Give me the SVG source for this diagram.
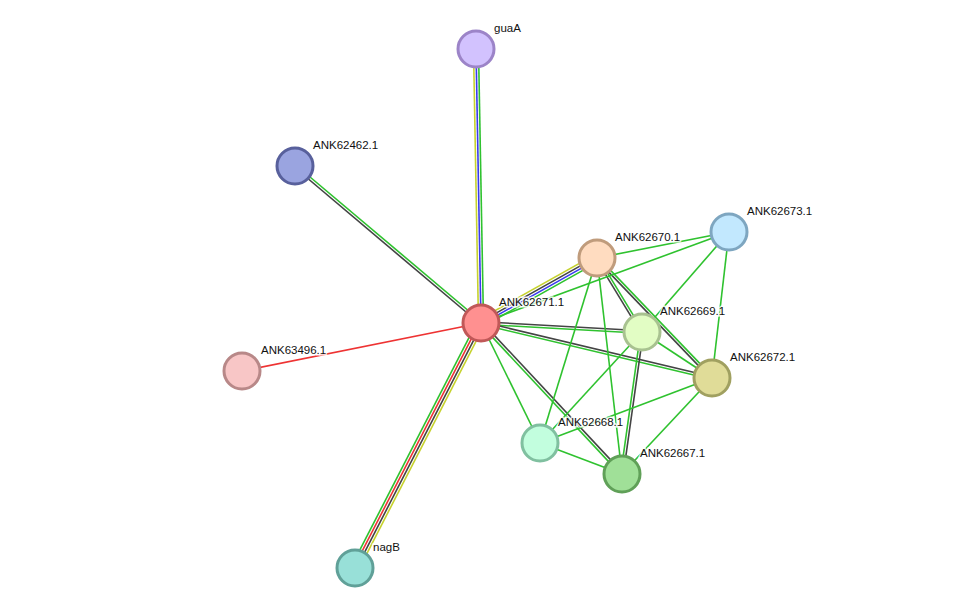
<svg xmlns="http://www.w3.org/2000/svg" width="976" height="614" viewBox="0 0 976 614">
<style>
line{stroke-width:1.6;fill:none}
.g{stroke:#2fc22f}.k{stroke:#444}.y{stroke:#c6d22e}.b{stroke:#3a3aee}.r{stroke:#ee3333}
circle{stroke-width:3}
text{font-family:"Liberation Sans",Arial,sans-serif;font-size:11.5px;fill:#111;stroke:#fff;stroke-width:3;stroke-opacity:0.8;paint-order:stroke}
</style>
<rect width="976" height="614" fill="#fff"/>
<g id="edges">
<line class="y" x1="473.5" y1="49" x2="478.5" y2="323"/>
<line class="b" x1="476" y1="49" x2="481" y2="323"/>
<line class="g" x1="478.5" y1="49" x2="483.5" y2="323"/>
<line class="g" x1="295.8" y1="165" x2="481.8" y2="322"/>
<line class="k" x1="294.2" y1="167" x2="480.2" y2="324"/>
<line class="r" x1="242" y1="371" x2="481" y2="323"/>
<line class="g" x1="351.5" y1="566.2" x2="477.5" y2="321.2"/>
<line class="r" x1="353.8" y1="567.4" x2="479.8" y2="322.4"/>
<line class="k" x1="356.2" y1="568.6" x2="482.2" y2="323.6"/>
<line class="y" x1="358.5" y1="569.8" x2="484.5" y2="324.8"/>
<line class="y" x1="479.1" y1="319.6" x2="595.1" y2="254.6"/>
<line class="k" x1="480.4" y1="321.9" x2="596.4" y2="256.9"/>
<line class="b" x1="481.6" y1="324.1" x2="597.6" y2="259.1"/>
<line class="g" x1="482.9" y1="326.4" x2="598.9" y2="261.4"/>
<line class="k" x1="481.1" y1="321.7" x2="642.1" y2="330.7"/>
<line class="g" x1="480.9" y1="324.3" x2="641.9" y2="333.3"/>
<line class="k" x1="481.3" y1="321.7" x2="712.3" y2="376.7"/>
<line class="g" x1="480.7" y1="324.3" x2="711.7" y2="379.3"/>
<line class="k" x1="482" y1="322.1" x2="623" y2="473.1"/>
<line class="g" x1="480" y1="323.9" x2="621" y2="474.9"/>
<line class="k" x1="595.9" y1="258.7" x2="640.9" y2="332.7"/>
<line class="g" x1="598.1" y1="257.3" x2="643.1" y2="331.3"/>
<line class="k" x1="596.1" y1="258.9" x2="711.1" y2="378.9"/>
<line class="g" x1="597.9" y1="257.1" x2="712.9" y2="377.1"/>
<line class="k" x1="643.3" y1="332.2" x2="623.3" y2="474.2"/>
<line class="g" x1="640.7" y1="331.8" x2="620.7" y2="473.8"/>
<line class="g" x1="481" y1="323" x2="540" y2="443"/>
<line class="g" x1="481" y1="323" x2="729" y2="232"/>
<line class="g" x1="597" y1="258" x2="729" y2="232"/>
<line class="g" x1="597" y1="258" x2="540" y2="443"/>
<line class="g" x1="597" y1="258" x2="622" y2="474"/>
<line class="g" x1="642" y1="332" x2="729" y2="232"/>
<line class="g" x1="642" y1="332" x2="540" y2="443"/>
<line class="g" x1="642" y1="332" x2="712" y2="378"/>
<line class="g" x1="712" y1="378" x2="729" y2="232"/>
<line class="g" x1="712" y1="378" x2="540" y2="443"/>
<line class="g" x1="712" y1="378" x2="622" y2="474"/>
<line class="g" x1="540" y1="443" x2="622" y2="474"/>
</g>
<g id="guaA"><circle cx="476" cy="49" r="18" fill="#d2c2fe" stroke="#9c84c8"/><text x="494" y="32">guaA</text></g>
<g id="ANK62462.1"><circle cx="295" cy="166" r="18" fill="#9aa4e0" stroke="#58609c"/><text x="313" y="149">ANK62462.1</text></g>
<g id="ANK62671.1"><circle cx="481" cy="323" r="18" fill="#ff9090" stroke="#c05858"/><text x="499" y="306">ANK62671.1</text></g>
<g id="ANK63496.1"><circle cx="242" cy="371" r="18" fill="#f8c6c6" stroke="#b88888"/><text x="261" y="354">ANK63496.1</text></g>
<g id="ANK62670.1"><circle cx="597" cy="258" r="18" fill="#ffdcc0" stroke="#c09c7c"/><text x="615" y="241">ANK62670.1</text></g>
<g id="ANK62673.1"><circle cx="729" cy="232" r="18" fill="#c2e8fe" stroke="#7ea6c0"/><text x="747" y="215">ANK62673.1</text></g>
<g id="ANK62669.1"><circle cx="642" cy="332" r="18" fill="#e2fdc4" stroke="#a8c290"/><text x="660" y="315">ANK62669.1</text></g>
<g id="ANK62672.1"><circle cx="712" cy="378" r="18" fill="#e0dc98" stroke="#a0a060"/><text x="730" y="361">ANK62672.1</text></g>
<g id="ANK62668.1"><circle cx="540" cy="443" r="18" fill="#c2fede" stroke="#80c0a0"/><text x="558" y="426">ANK62668.1</text></g>
<g id="ANK62667.1"><circle cx="622" cy="474" r="18" fill="#a0e098" stroke="#60a058"/><text x="640" y="457">ANK62667.1</text></g>
<g id="nagB"><circle cx="355" cy="568" r="18" fill="#98e0d8" stroke="#60a098"/><text x="373" y="551">nagB</text></g>
</svg>
